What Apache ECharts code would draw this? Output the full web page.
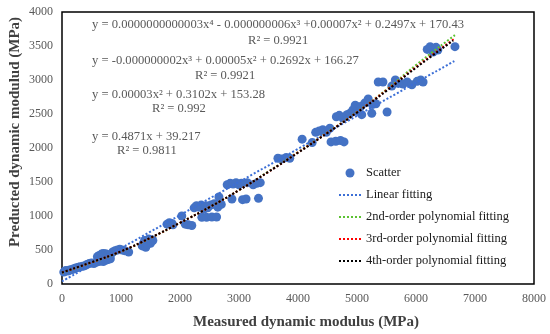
<!DOCTYPE html>
<html><head><meta charset="utf-8">
<script src="https://cdn.jsdelivr.net/npm/echarts@6/dist/echarts.min.js"></script>
<style>html,body{margin:0;padding:0;background:#fff}#c{width:550px;height:334px}</style>
</head><body><div id="c"></div>
<script>
const xTicks = [0,1000,2000,3000,4000,5000,6000,7000,8000];
const yTicks = [0,500,1000,1500,2000,2500,3000,3500,4000];
const scatterPts = [
[30,175],[50,190],[70,200],[100,190],[130,205],[160,210],[190,220],[220,230],[250,240],[280,245],[310,255],[350,260],[390,270],[420,285],[460,300],[500,310],[540,300],[580,320],[620,330],[660,340],[700,330],[740,350],[780,360],[820,370],
[600,400],[630,420],[670,440],[700,450],[740,445],[780,430],[820,420],[860,470],[900,490],[940,500],[980,510],[1020,500],[1060,490],[1130,470],
[1360,560],[1380,600],[1400,640],[1420,540],[1450,620],[1470,660],[1500,600],[1520,650],[1540,640],[1440,580],
[1780,880],[1820,900],[1860,890],[1880,870],[2030,1000],[2090,880],[2140,870],[2200,860],
[2240,1120],[2280,1150],[2320,1130],[2360,1160],[2400,1100],[2440,1150],[2470,1120],
[2370,980],[2450,980],[2540,985],[2620,985],
[2520,1160],[2580,1180],[2640,1130],[2700,1170],[2660,1280],
[2800,1460],[2850,1480],[2900,1470],[2950,1490],[3000,1460],[3040,1480],[2880,1250],[3060,1240],[3120,1250],
[3140,1490],[3240,1460],[3300,1480],[3360,1490],[3330,1260],
[3660,1850],[3720,1840],[3800,1860],[3860,1850],
[4070,2130],[4240,2080],
[4300,2230],[4360,2250],[4420,2270],[4480,2230],[4540,2290],
[4560,2090],[4640,2100],[4720,2110],[4780,2090],
[4650,2460],[4700,2480],[4760,2440],[4830,2490],
[4880,2510],[4930,2560],[4970,2630],[5000,2540],
[5060,2610],[5130,2660],[5190,2720],[5260,2640],[5320,2650],[5080,2490],[5250,2510],[5510,2530],
[5360,2970],[5440,2970],[5590,2910],[5650,3000],[5700,2950],[5780,2940],[5850,2970],[5930,2930],[6020,2980],[6080,3000],[6120,2970],
[6190,3450],[6240,3490],[6290,3410],[6340,3480],[6370,3440],[6660,3490]
];
const linearFit = [[0,39],[6650,3278]];
const poly2Fit = [[0,165],[500,315],[1000,478],[1500,675],[2000,900],[2500,1130],[3000,1380],[3500,1655],[4000,1940],[4500,2230],[5000,2530],[5500,2860],[6000,3220],[6660,3660]];
const poly3Fit = [[0,168],[500,318],[1000,480],[1500,678],[2000,900],[2500,1130],[3000,1380],[3500,1650],[4000,1935],[4500,2225],[5000,2525],[5500,2850],[6000,3190],[6640,3600]];
const poly4Fit = [[0,170],[500,320],[1000,480],[1500,680],[2000,900],[2500,1130],[3000,1380],[3500,1650],[4000,1930],[4500,2220],[5000,2520],[5500,2840],[6000,3180],[6630,3580]];
const seriesNames = ['Scatter','Linear fitting','2nd-order polynomial fitting','3rd-order polynomial fitting','4th-order polynomial fitting'];
const equations = [
  'y = 0.0000000000003x\u2074 - 0.000000006x\u00b3 +0.00007x\u00b2 + 0.2497x + 170.43',
  'R\u00b2 = 0.9921',
  'y = -0.000000002x\u00b3 + 0.00005x\u00b2 + 0.2692x + 166.27',
  'R\u00b2 = 0.9921',
  'y = 0.00003x\u00b2 + 0.3102x + 153.28',
  'R\u00b2 = 0.992',
  'y = 0.4871x + 39.217',
  'R\u00b2 = 0.9811'
];
const xTitle = 'Measured dynamic modulus (MPa)';
const yTitle = 'Preducted dynamic modulud (MPa)';

const serif = "'Times New Roman','Liberation Serif',serif";
const eqPos = [[92,25],[248,41],[92,61],[195,76],[92,95],[152,109],[92,137],[117,151]];
const chart = echarts.init(document.getElementById('c'), null, {renderer:'canvas'});
const lineSeries = (name, data, color) => ({
  name, type:'line', data, symbol:'none', showSymbol:false, smooth:true, z:3,
  lineStyle:{color, type:'dotted', width:2}, itemStyle:{color}, animation:false
});
chart.setOption({
  animation:false,
  grid:{left:62,right:16,top:12,bottom:50,show:true,borderColor:'#000',borderWidth:1.5,backgroundColor:'transparent'},
  xAxis:{type:'value',min:xTicks[0],max:xTicks[xTicks.length-1],interval:1000,
    axisLine:{show:false},axisTick:{show:false},splitLine:{show:false},
    axisLabel:{fontFamily:serif,fontSize:12,color:'#595959',margin:9,formatter:v=>String(v)}},
  yAxis:{type:'value',min:yTicks[0],max:yTicks[yTicks.length-1],interval:500,
    axisLine:{show:false},axisTick:{show:false},splitLine:{show:false},
    axisLabel:{fontFamily:serif,fontSize:12,color:'#595959',margin:9,formatter:v=>String(v)}},
  legend:{orient:'vertical',left:333,top:161,itemWidth:22,itemHeight:9,itemGap:8,
    textStyle:{fontFamily:serif,fontSize:12.5,color:'#1a1a1a',lineHeight:14},
    data:seriesNames.map((n,i)=> i===0?{name:n,icon:'circle'}:{name:n,itemStyle:{opacity:0}})},
  series:[
    {name:seriesNames[0],type:'scatter',data:scatterPts,symbolSize:9,itemStyle:{color:'#4472C4',opacity:1},z:2},
    lineSeries(seriesNames[1], linearFit, '#3c6fd6'),
    lineSeries(seriesNames[2], poly2Fit, '#5cc232'),
    lineSeries(seriesNames[3], poly3Fit, '#ff0000'),
    lineSeries(seriesNames[4], poly4Fit, '#000000')
  ],
  graphic:[
    ...equations.map((t,i)=>({type:'text',x:eqPos[i][0],y:eqPos[i][1],z:10,
      style:{text:t,font:'12.6px '+serif,fill:'#595959',verticalAlign:'middle'}})),
    {type:'text',x:306,y:322,z:10,style:{text:xTitle,font:'bold 15px '+serif,fill:'#404040',align:'center',verticalAlign:'middle'}},
    {type:'text',x:15,y:132,rotation:Math.PI/2,z:10,style:{text:yTitle,font:'bold 15px '+serif,fill:'#404040',align:'center',verticalAlign:'middle'}}
  ]
});
</script></body></html>
